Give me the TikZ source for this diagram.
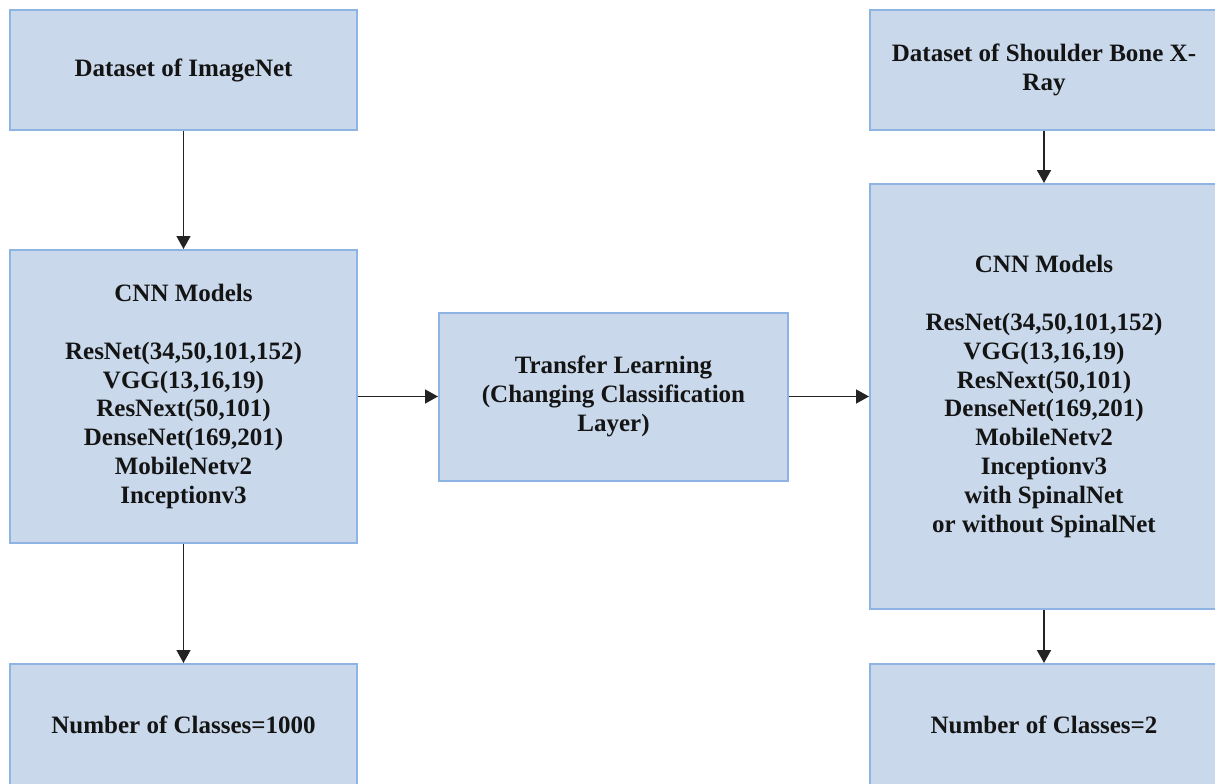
\documentclass[tikz,border=0pt]{standalone}
\usepackage{fontspec}
\setmainfont{Liberation Serif}
\usetikzlibrary{arrows.meta}

\definecolor{boxfill}{RGB}{201,217,235}
\definecolor{boxline}{RGB}{142,180,227}
\definecolor{arrowgray}{RGB}{35,35,35}

\begin{document}
\begin{tikzpicture}[x=1pt, y=-1pt,
  block/.style={draw=boxline, fill=boxfill, line width=2pt,
    font=\fontsize{25}{28.8}\selectfont\bfseries, text=black!92,
    align=center, inner sep=0pt},
  flow/.style={draw=arrowgray, line width=1.6pt,
    -{Triangle[length=13pt, width=14pt]}}
]
\useasboundingbox (0,0) rectangle (1215,784);
\clip (0,0) rectangle (1215,784);

% left column: pretrained on ImageNet
\node[block, minimum width=347pt, minimum height=120pt] (imgnet) at (183.5,70)
  {Dataset of ImageNet};
\node[block, minimum width=347pt, minimum height=293pt] (cnnA) at (183.5,396.5)
  {CNN Models\\[28.8pt]
   ResNet(34,50,101,152)\\
   VGG(13,16,19)\\
   ResNext(50,101)\\
   DenseNet(169,201)\\
   MobileNetv2\\
   Inceptionv3};
\node[block, minimum width=347pt, minimum height=122pt] (classA) at (183.5,725)
  {Number of Classes=1000};

% middle: transfer step
\node[block, minimum width=349pt, minimum height=168pt] (transfer) at (613.5,396.5)
  {Transfer Learning\\
   (Changing Classification\\
   Layer)};

% right column: fine-tuned on shoulder X-rays
\node[block, minimum width=348pt, minimum height=120pt] (xray) at (1044,70)
  {Dataset of Shoulder Bone X-\\Ray};
\node[block, minimum width=348pt, minimum height=425pt] (cnnB) at (1044,396.5)
  {CNN Models\\[28.8pt]
   ResNet(34,50,101,152)\\
   VGG(13,16,19)\\
   ResNext(50,101)\\
   DenseNet(169,201)\\
   MobileNetv2\\
   Inceptionv3\\
   with SpinalNet\\
   or without SpinalNet};
\node[block, minimum width=348pt, minimum height=122pt] (classB) at (1044,725)
  {Number of Classes=2};

% connectors
\draw[flow] (imgnet.south) -- (cnnA.north);
\draw[flow] (cnnA.south) -- (classA.north);
\draw[flow] (cnnA.east) -- (transfer.west);
\draw[flow] (transfer.east) -- (cnnB.west);
\draw[flow] (xray.south) -- (cnnB.north);
\draw[flow] (cnnB.south) -- (classB.north);
\end{tikzpicture}
\end{document}
